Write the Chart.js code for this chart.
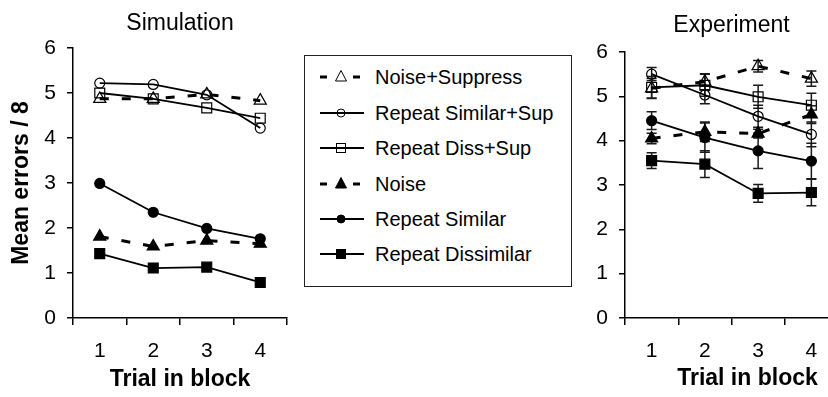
<!DOCTYPE html>
<html><head><meta charset="utf-8">
<script src="https://cdn.jsdelivr.net/npm/chart.js@4"></script>
<style>
html,body{margin:0;padding:0;width:828px;height:397px;overflow:hidden;background:#fff;font-family:"Liberation Sans",Arial,sans-serif;}
#c1{position:absolute;left:0;top:0;}
#c2{position:absolute;left:560px;top:0;}
#legend{position:absolute;left:304px;top:55px;width:268px;height:232px;border:1px solid #222;box-sizing:border-box;}
.row{position:absolute;left:0;height:30px;display:flex;align-items:center;white-space:nowrap;}
.row svg{position:absolute;left:13px;top:0;}
.row span{position:absolute;left:70px;top:50%;transform:translateY(-50%);font-size:20px;color:#000;}
</style></head>
<body>
<canvas id="c1" width="300" height="397"></canvas>
<div id="legend"></div>
<canvas id="c2" width="290" height="397"></canvas>
<script>
// ---- data ----
const trials = ['1', '2', '3', '4'];
const seriesNames = ['Noise+Suppress', 'Repeat Similar+Sup', 'Repeat Diss+Sup', 'Noise', 'Repeat Similar', 'Repeat Dissimilar'];
const yTicks = [0, 1, 2, 3, 4, 5, 6];

const simNoiseSup   = [4.87, 4.87, 4.97, 4.83];
const simRepSimSup  = [5.22, 5.19, 4.96, 4.22];
const simRepDissSup = [5.00, 4.87, 4.67, 4.44];
const simNoise      = [1.81, 1.59, 1.72, 1.65];
const simRepSim     = [2.99, 2.35, 1.99, 1.76];
const simRepDiss    = [1.43, 1.11, 1.13, 0.79];

const expNoiseSup   = [5.18, 5.33, 5.68, 5.40];
const expRepSimSup  = [5.50, 5.03, 4.55, 4.14];
const expRepDissSup = [5.20, 5.25, 4.99, 4.80];
const expNoise      = [4.05, 4.20, 4.16, 4.59];
const expRepSim     = [4.45, 4.07, 3.77, 3.54];
const expRepDiss    = [3.55, 3.47, 2.81, 2.83];

const expNoiseSupErr   = [0.22, 0.18, 0.13, 0.17];
const expRepSimSupErr  = [0.15, 0.20, 0.25, 0.28];
const expRepDissSupErr = [0.25, 0.25, 0.26, 0.27];
const expNoiseErr      = [0.12, 0.22, 0.10, 0.20];
const expRepSimErr     = [0.20, 0.33, 0.40, 0.40];
const expRepDissErr    = [0.18, 0.30, 0.20, 0.30];

// ---- styles ----
const styles = [
  {dash: [9, 13], width: 3, point: 'triangle', r: 7, fill: 'transparent'},
  {dash: [], width: 1.8, point: 'circle', r: 5, fill: 'transparent'},
  {dash: [], width: 1.8, point: 'rect', r: 7, fill: 'transparent'},
  {dash: [9, 13], width: 3, point: 'triangle', r: 7, fill: '#000'},
  {dash: [], width: 1.8, point: 'circle', r: 5, fill: '#000'},
  {dash: [], width: 1.8, point: 'rect', r: 7, fill: '#000'}
];

function makeDatasets(values, errors) {
  return values.map((v, i) => ({
    label: seriesNames[i],
    data: v,
    errors: errors ? errors[i] : null,
    borderColor: '#000',
    borderWidth: styles[i].width,
    borderDash: styles[i].dash,
    pointStyle: styles[i].point,
    pointRadius: styles[i].r,
    pointBackgroundColor: styles[i].fill,
    pointBorderColor: '#000',
    pointBorderWidth: 1.2,
    tension: 0,
    fill: false
  }));
}

const errorBars = {
  id: 'errorBars',
  beforeDatasetsDraw(chart) {
    const ctx = chart.ctx, x = chart.scales.x, y = chart.scales.y;
    chart.data.datasets.forEach(ds => {
      if (!ds.errors) return;
      ctx.save();
      ctx.strokeStyle = '#1a1a1a';
      ctx.lineWidth = 1.5;
      ctx.setLineDash([]);
      ds.data.forEach((v, j) => {
        const e = ds.errors[j];
        const px = x.getPixelForValue(j);
        const t = y.getPixelForValue(v + e), b = y.getPixelForValue(v - e);
        ctx.beginPath();
        ctx.moveTo(px, t); ctx.lineTo(px, b);
        ctx.moveTo(px - 5, t); ctx.lineTo(px + 5, t);
        ctx.moveTo(px - 5, b); ctx.lineTo(px + 5, b);
        ctx.stroke();
      });
      ctx.restore();
    });
  }
};

const FONT = '"Liberation Sans", Arial, sans-serif';

function makeOptions(opts) {
  return {
    responsive: false,
    animation: false,
    devicePixelRatio: 1,
    layout: {padding: {left: 0, right: opts.padRight, top: 0, bottom: 0}},
    plugins: {
      legend: {display: false},
      tooltip: {enabled: false},
      title: {
        display: true, text: opts.title, fullSize: false,
        color: '#000', font: {family: FONT, size: 23, weight: 'normal', lineHeight: 1.2},
        padding: {top: opts.titleTop, bottom: opts.titleBottom}
      }
    },
    scales: {
      x: {
        type: 'category', offset: true,
        grid: {offset: true, drawOnChartArea: false, drawTicks: true, tickLength: 7, color: '#000', lineWidth: 1.5},
        border: {color: '#000', width: 1.5},
        ticks: {color: '#000', font: {family: FONT, size: 21}, padding: 14},
        title: opts.xTitle ? {display: true, text: 'Trial in block', color: '#000',
          font: {family: FONT, size: 23, weight: 'bold', lineHeight: 1.2}, padding: {top: 0, bottom: 4}} : {display: false},
        afterFit: s => { s.height = 79; }
      },
      y: {
        min: 0, max: 6,
        afterBuildTicks: s => { s.ticks = yTicks.map(v => ({value: v})); },
        grid: {drawOnChartArea: false, drawTicks: true, tickLength: 6, color: '#000', lineWidth: 1.5},
        border: {color: '#000', width: 1.5},
        ticks: {color: '#000', font: {family: FONT, size: 21}, padding: 11},
        title: opts.yTitle ? {display: true, text: 'Mean errors / 8', color: '#000',
          font: {family: FONT, size: 23, weight: 'bold', lineHeight: 1.2}, padding: {top: 8, bottom: 0}} : {display: false},
        afterFit: s => { s.width = opts.yWidth; }
      }
    }
  };
}

new Chart(document.getElementById('c1'), {
  type: 'line',
  data: {labels: trials, datasets: makeDatasets([simNoiseSup, simRepSimSup, simRepDissSup, simNoise, simRepSim, simRepDiss])},
  options: makeOptions({title: 'Simulation', padRight: 13, titleTop: 10, titleBottom: 10.4, yWidth: 73, xTitle: true, yTitle: true}),
  plugins: [errorBars]
});

const rightXTitle = {
  id: 'rightXTitle',
  afterDraw(chart) {
    const ctx = chart.ctx;
    ctx.save();
    ctx.font = 'bold 23px ' + FONT;
    ctx.fillStyle = '#000';
    ctx.textAlign = 'center';
    ctx.textBaseline = 'middle';
    ctx.fillText('Trial in block', chart.chartArea.left + (chart.chartArea.right - chart.chartArea.left) * 0.575, 379);
    ctx.restore();
  }
};

new Chart(document.getElementById('c2'), {
  type: 'line',
  data: {labels: trials, datasets: makeDatasets(
    [expNoiseSup, expRepSimSup, expRepDissSup, expNoise, expRepSim, expRepDiss],
    [expNoiseSupErr, expRepSimSupErr, expRepDissSupErr, expNoiseErr, expRepSimErr, expRepDissErr])},
  options: makeOptions({title: 'Experiment', padRight: 12, titleTop: 12, titleBottom: 12.4, yWidth: 65, xTitle: false, yTitle: false}),
  plugins: [errorBars, rightXTitle]
});

// ---- legend ----
const legend = document.getElementById('legend');
const rowCenters = [21, 57, 92, 128, 163, 198];
seriesNames.forEach((name, i) => {
  const st = styles[i];
  const row = document.createElement('div');
  row.className = 'row';
  row.style.top = (rowCenters[i] - 15) + 'px';
  let line;
  if (st.dash.length) {
    line = '<line x1="2" y1="15" x2="9" y2="15" stroke="#000" stroke-width="3"/><line x1="35" y1="15" x2="42" y2="15" stroke="#000" stroke-width="3"/>';
  } else {
    line = '<line x1="2" y1="15" x2="46" y2="15" stroke="#000" stroke-width="1.8"/>';
  }
  const fill = st.fill === 'transparent' ? 'none' : '#000';
  let mk;
  if (st.point === 'circle') mk = '<circle cx="23" cy="15" r="4" fill="' + fill + '" stroke="#000" stroke-width="1"/>';
  else if (st.point === 'rect') mk = '<rect x="18.5" y="10.5" width="9" height="9" fill="' + fill + '" stroke="#000" stroke-width="1"/>';
  else mk = '<polygon points="23,8.5 28.5,19 17.5,19" fill="' + fill + '" stroke="#000" stroke-width="1"/>';
  row.innerHTML = '<svg width="48" height="30">' + line + mk + '</svg><span>' + name + '</span>';
  legend.appendChild(row);
});
</script>
</body></html>
